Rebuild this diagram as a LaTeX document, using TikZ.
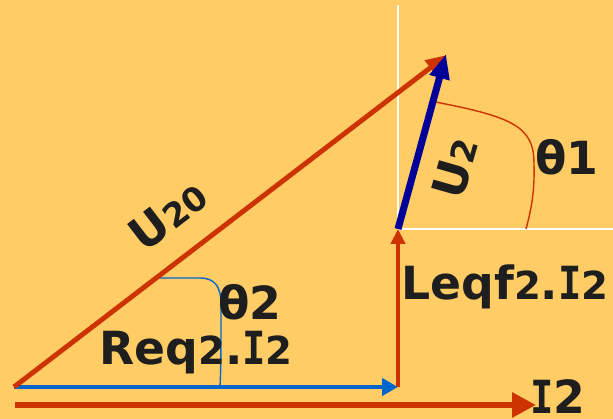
\documentclass[tikz,border=0pt]{standalone}
\usepackage{fontspec}
\setmainfont{DejaVu Sans}
\newfontfamily\monofam{DejaVu Sans Mono}
\usetikzlibrary{arrows.meta}

\definecolor{bgcol}{RGB}{255,204,102}
\definecolor{vecred}{RGB}{204,51,0}
\definecolor{vecblue}{RGB}{0,102,204}
\definecolor{vecnavy}{RGB}{0,0,153}
\definecolor{txtcol}{RGB}{30,30,30}

\newcommand{\idx}[1]{{\fontsize{22pt}{22pt}\selectfont #1}}
\newcommand{\sidx}[1]{{\fontsize{19pt}{19pt}\selectfont #1}}
\newcommand{\capI}{\scalebox{0.85}[1]{\monofam\bfseries I}}

\begin{document}
\begin{tikzpicture}[
    x=0.02cm, y=0.02cm,
    vec/.style={line width=2.8pt},
    thinarc/.style={line width=0.8pt},
    guide/.style={white, line width=1.1pt},
    lbl/.style={
        font=\bfseries\fontsize{26pt}{26pt}\selectfont,
        text=txtcol,
        inner sep=0pt
    }
]

\fill[bgcol] (0,0) rectangle (613,419);
\useasboundingbox (0,0) rectangle (613,419);

% points of the diagram
\coordinate (O) at (14,32);
\coordinate (A) at (398,32);
\coordinate (B) at (398,190);
\coordinate (C) at (446,365);
\coordinate (Ctip) at (447,364);
\coordinate (Istart) at (15,14);
\coordinate (Iend) at (536,14);
\coordinate (Gtop) at (398,414);
\coordinate (Gright) at (613,190);

% white guide lines
\draw[guide] (B) -- (Gtop);
\draw[guide] (B) -- (Gright);

% angle marks
\draw[thinarc, vecred] (430,318) .. controls (515,302) and (534,292) .. (534,255)
    .. controls (535,225) and (530,205) .. (526,190);
\draw[thinarc, vecblue] (157,141) -- (200,141) .. controls (215,141) and (221,132) .. (221,115)
    .. controls (221,75) and (221,50) .. (220,32);

% vectors
\draw[vec, vecred, line width=3.4pt, -{Triangle[length=13.6pt, width=13.6pt]}] (Istart) -- (Iend);
\draw[vec, vecblue, -{Triangle[length=9pt, width=9.6pt]}] (O) -- (A);
\draw[vec, vecred, -{Triangle[length=8.5pt, width=8pt]}] (A) -- (B);
\draw[vec, vecred, -{Triangle[length=12pt, width=10pt]}] (O) -- (Ctip);
\draw[vec, vecnavy, line width=4pt, -{Triangle[length=14pt, width=11pt]}] (B) -- (C);

% labels
\node[lbl, rotate=37.5] (u20) at (168,204) {U\sidx{20}};
\node[lbl, rotate=74] (u2) at (455,251) {U\sidx{2}};
\node[lbl] (th1) at (567,262) {θ1};
\node[lbl] (th2) at (250,117) {θ2};
\node[lbl] (req) at (196,66) {Req\idx{2}.\capI\idx{2}};
\node[lbl] (leq) at (505,132) {Leqf\idx{2}.\capI\idx{2}};
\node[lbl] (i2) at (558,22) {\capI2};

\end{tikzpicture}
\end{document}
